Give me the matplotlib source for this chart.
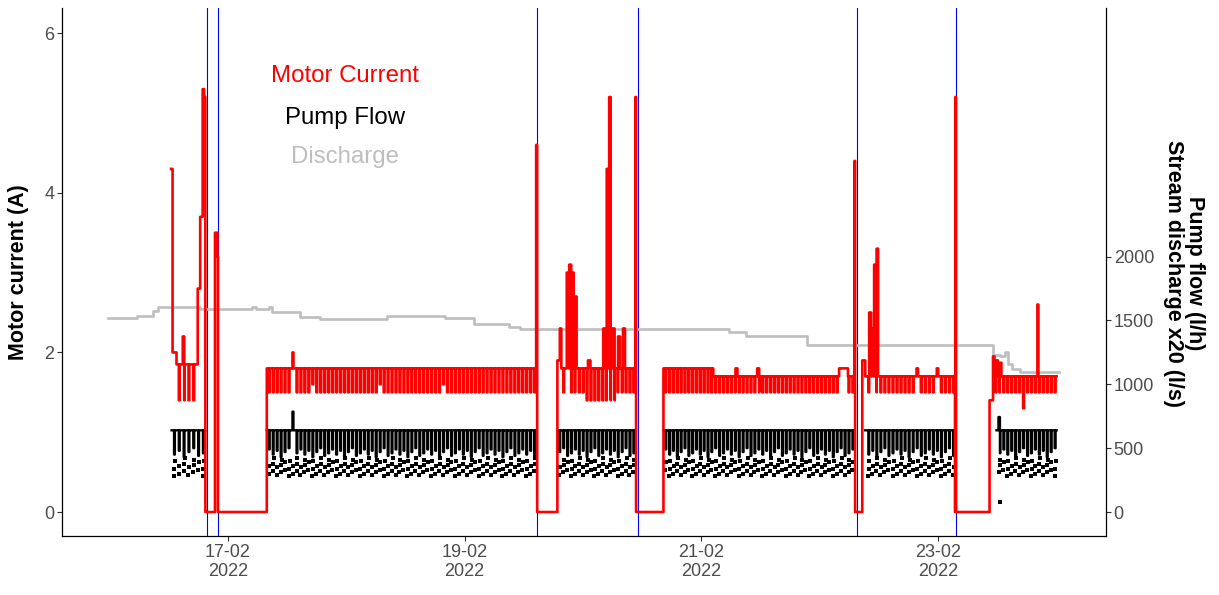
import numpy as np
import matplotlib
matplotlib.use("Agg")
import matplotlib.pyplot as plt
import matplotlib.dates as mdates

plt.rcParams['font.family'] = ['Liberation Sans', 'DejaVu Sans']

# time is in hours from 16-02-2022 00:00
start_date = np.datetime64('2022-02-16T00:00')

# motor current: running periods (start h, end h, level A, tooth lows as digits -> 1.d A)
current_segments = [
    (12.6, 19.44, 1.85, '4444444'),
    (31.9, 86.5, 1.8, '5555555555' '5655555555' '5555555565' '5555555555'
                      '5555655555' '5555555555' '55555555'),
    (90.8, 106.6, 1.8, '55555554444444455555'),
    (112.3, 122.4, 1.8, '5555555555555'),
    (122.4, 151.0, 1.7, '555555555555555555555555555555555555'),
    (152.6, 171.4, 1.7, '55555555555555555555555'),
    (178.4, 192.0, 1.7, '45555555355555555'),
]
# spikes / plateaus (start h, value A, duration h)
current_spikes = [
    (12.5, 4.3, 0.3), (12.8, 2.0, 0.8), (14.86, 2.2, 0.3),
    (17.9, 2.8, 0.5), (18.4, 3.7, 0.5), (18.9, 5.3, 0.3), (19.2, 5.2, 0.24),
    (21.4, 3.5, 0.5), (21.9, 3.2, 0.1),
    (37.1, 2.0, 0.2),
    (86.5, 4.6, 0.2),
    (90.8, 1.9, 0.5), (91.3, 2.3, 0.3), (92.7, 3.0, 0.4), (93.2, 3.1, 0.4),
    (93.8, 3.0, 0.3), (94.4, 2.7, 0.3), (97.0, 1.9, 0.5),
    (100.1, 2.3, 0.5), (100.8, 4.3, 0.4), (101.3, 5.2, 0.3), (101.9, 2.3, 0.5),
    (103.1, 2.2, 0.4), (104.1, 2.3, 0.4), (106.6, 5.2, 0.15),
    (126.9, 1.8, 0.4), (131.3, 1.8, 0.4), (147.9, 1.8, 1.8), (151.0, 4.4, 0.15),
    (152.6, 1.9, 0.6), (154.0, 2.5, 0.4), (154.5, 2.3, 0.4), (155.0, 3.1, 0.4),
    (155.5, 3.3, 0.3), (163.6, 1.8, 0.3), (167.7, 1.8, 0.3), (171.45, 5.2, 0.15),
    (178.4, 1.4, 0.7), (179.1, 1.95, 0.3), (179.8, 1.9, 0.3), (180.5, 1.87, 0.3),
    (188.1, 2.6, 0.2),
]

# pump flow (l/h)
pump_segments = [(12.6, 19.4), (31.9, 86.5), (90.9, 106.6), (112.3, 151.0),
                 (153.2, 171.4), (179.8, 192.0)]
pump_level = 640
pump_dips = [450, 480, 430, 470, 500, 440, 460, 490]
pump_dots = [(280, 340, 400), (300, 360), (320, 380, 420), (290, 350),
             (310, 370, 410), (330, 390)]
pump_spikes = [(37.1, 786, 0.2), (180.2, 744, 0.3)]
pump_lone = [(180.6, 78)]

# stream discharge x20 (l/s)
discharge_t = [-0.2, 4.8, 5.5, 8.8, 9.8, 17.8, 18.3, 28.5, 29.0, 29.8, 32.3, 33.0,
               37.2, 38.6, 42.7, 55.9, 56.3, 67.4, 68.0, 73.1, 73.8, 80.5, 81.0,
               82.8, 83.3, 125.1, 125.6, 128.4, 129.0, 140.8, 141.3, 178.2, 179.1,
               180.5, 181.5, 182.2, 183.0, 184.6, 192.5]
discharge_v = [1521, 1521, 1539, 1578, 1609, 1609, 1591, 1591, 1609, 1591, 1609, 1565,
               1565, 1526, 1513, 1513, 1539, 1539, 1516, 1516, 1474, 1474, 1448,
               1448, 1435, 1435, 1409, 1409, 1375, 1375, 1305, 1305, 1227,
               1220, 1252, 1160, 1123, 1096, 1096]

# events (h)
events = [19.74, 21.95, 86.7, 107.05, 151.5, 171.65]

flow_scale = 625.0
tooth_dur = 0.17


def to_x(h):
    return mdates.date2num(start_date) + np.asarray(h, dtype=float) / 24.0


t = np.arange(12.5, 192.0, 1 / 60)
cur = np.zeros_like(t)
flow = np.full_like(t, np.nan)
teeth = []
for ts, te, lvl, lows in current_segments:
    cur[(t >= ts) & (t < te)] = lvl
    step = (te - ts) / len(lows)
    for i, c in enumerate(lows):
        ti = ts + (i + 0.5) * step
        cur[(t >= ti) & (t < ti + tooth_dur)] = 1 + int(c) / 10
        teeth.append(ti)
for ts, v, d in current_spikes:
    cur[(t >= ts) & (t < ts + d)] = v

for ts, te in pump_segments:
    flow[(t >= ts) & (t < te)] = pump_level
dot_t, dot_v = [], []
k = 0
for ti in teeth:
    if not any(ts <= ti < te for ts, te in pump_segments):
        continue
    flow[(t >= ti) & (t < ti + tooth_dur)] = pump_dips[k % len(pump_dips)]
    for j, dv in enumerate(pump_dots[k % len(pump_dots)]):
        dot_t.append(ti + 0.1 * j)
        dot_v.append(dv)
    k += 1
for ts, v, d in pump_spikes:
    flow[(t >= ts) & (t < ts + d)] = v

fig = plt.figure(figsize=(12.19, 5.95), dpi=100)
ax = fig.add_axes([0.0509, 0.0992, 0.8564, 0.8874])

for e in events:
    ax.axvline(to_x(e), color='blue', lw=0.8, zorder=1)
ax.plot(to_x(discharge_t), np.array(discharge_v) / flow_scale, color='#BEBEBE',
        lw=1.9, drawstyle='steps-post', zorder=2)
ax.plot(to_x(t), flow / flow_scale, color='black', lw=1.7, drawstyle='steps-post', zorder=3)
ax.scatter(to_x(dot_t), np.array(dot_v) / flow_scale, marker='s', s=5, color='black',
           linewidths=0, zorder=3)
ax.scatter(to_x([p[0] for p in pump_lone]), np.array([p[1] for p in pump_lone]) / flow_scale,
           marker='s', s=6, color='black', linewidths=0, zorder=3)
ax.plot(to_x(t), cur, color='red', lw=1.9, drawstyle='steps-post', zorder=4)

ax.set_xlim(to_x(-9.6), to_x(202.0))
ax.set_ylim(-0.30, 6.316)
ax.set_yticks([0, 2, 4, 6])
ax.set_xticks(to_x([24, 72, 120, 168]))
ax.xaxis.set_major_formatter(mdates.DateFormatter('%d-%m\n%Y'))

ax.spines['top'].set_visible(False)
ax.spines['right'].set_visible(False)
for s in ['left', 'bottom']:
    ax.spines[s].set_linewidth(0.9)
ax.tick_params(axis='both', direction='out', length=3.5, width=0.8, color='#333333',
               labelsize=13, labelcolor='#4D4D4D', pad=2)

sec = ax.secondary_yaxis('right', functions=(lambda a: a * flow_scale, lambda f: f / flow_scale))
sec.set_yticks([0, 500, 1000, 1500, 2000])
sec.spines['right'].set_linewidth(0.9)
sec.tick_params(direction='out', length=3.5, width=0.8, color='#333333',
                labelsize=13, labelcolor='#4D4D4D', pad=2)

fig.text(0.0148, 0.543, 'Motor current (A)', rotation=90, ha='center', va='center',
         fontsize=15.5, fontweight='bold')
fig.text(0.971, 0.541, 'Pump flow (l/h)\nStream discharge x20 (l/s)', rotation=270,
         ha='center', va='center', multialignment='center', linespacing=1.0,
         fontsize=15.5, fontweight='bold')

ax.text(to_x(47.8), 5.46, 'Motor Current', color='red', fontsize=17.3, ha='center', va='center')
ax.text(to_x(47.8), 4.94, 'Pump Flow', color='black', fontsize=17.3, ha='center', va='center')
ax.text(to_x(47.8), 4.45, 'Discharge', color='#BEBEBE', fontsize=17.3, ha='center', va='center')

fig.savefig('out.png', dpi=100)
